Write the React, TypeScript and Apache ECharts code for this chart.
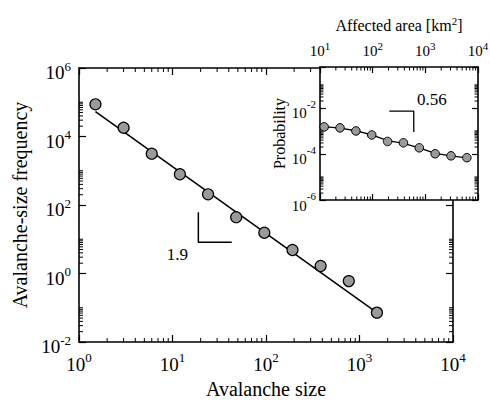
import React, { useEffect, useRef } from "react";
import * as echarts from "echarts";

// ---- main panel data ----
const mainSizes = [1.5, 3, 6, 12, 24, 48, 96, 192, 384, 768, 1536];
const mainFreq = [8.7e4, 1.8e4, 3150, 790, 205, 44, 15.5, 4.85, 1.66, 0.6, 0.072];
const mainFitX = [1.5, 1536];
const mainFitY = [5.3e4, 0.072];
const mainSlopeX = [18.9, 18.9, 43];
const mainSlopeY = [61, 8.15, 8.15];
const mainSlopeLabel = ["1.9"];
const mainSlopeLabelPos = [11.3, 3.7];

// ---- inset data ----
const insetArea = [12, 24, 48, 96, 192, 384, 768, 1536, 3072, 6144];
const insetProb = [1.5e-3, 1.36e-3, 1.0e-3, 6.7e-4, 3.5e-4, 3.05e-4, 1.85e-4, 1.02e-4, 8.3e-5, 6.9e-5];
const insetFitX = [12, 24, 48, 96, 192, 384, 768, 1536, 3072, 6144];
const insetFitY = [1.55e-3, 1.32e-3, 1.02e-3, 6.8e-4, 3.8e-4, 2.9e-4, 1.85e-4, 1.05e-4, 8.3e-5, 6.7e-5];
const insetSlopeX = [207, 603, 603];
const insetSlopeY = [7.2e-3, 7.2e-3, 9.1e-4];
const insetSlopeLabel = ["0.56"];
const insetSlopeLabelPos = [1330, 0.0231];

// ---- axis ranges & minor tick values ----
const mainXRange = [1, 10000];
const mainYRange = [0.01, 1e6];
const insetXRange = [10, 10000];
const insetYRange = [1e-6, 0.6];
const mainXMinor = [2, 3, 4, 5, 6, 7, 8, 9, 20, 30, 40, 50, 60, 70, 80, 90, 200, 300, 400, 500, 600, 700, 800, 900, 2000, 3000, 4000, 5000, 6000, 7000, 8000, 9000];
const mainYMinor = [0.02, 0.03, 0.04, 0.05, 0.06, 0.07, 0.08, 0.09, 0.1, 2, 3, 4, 5, 6, 7, 8, 9, 10, 200, 300, 400, 500, 600, 700, 800, 900, 1000, 2e4, 3e4, 4e4, 5e4, 6e4, 7e4, 8e4, 9e4, 1e5];
const insetXMinor = [20, 30, 40, 50, 60, 70, 80, 90, 200, 300, 400, 500, 600, 700, 800, 900, 2000, 3000, 4000, 5000, 6000, 7000, 8000, 9000];
const insetYMinor = [2e-6, 3e-6, 4e-6, 5e-6, 6e-6, 7e-6, 8e-6, 9e-6, 1e-5, 2e-4, 3e-4, 4e-4, 5e-4, 6e-4, 7e-4, 8e-4, 9e-4, 1e-3, 0.02, 0.03, 0.04, 0.05, 0.06, 0.07, 0.08, 0.09, 0.1];

const FONT = "Liberation Serif, serif";

function pow10Label(v: number): string {
  const e = Math.log10(v);
  const r = Math.round(e);
  if (Math.abs(e - r) > 1e-6) return "";
  return `{b|10}{s|${r}}`;
}

function xTickRender(len: number) {
  return (params: any, api: any) => {
    const x = api.coord([api.value(0), api.value(1)])[0];
    const cs = params.coordSys;
    const yb = cs.y + cs.height;
    const yt = cs.y;
    return {
      type: "group",
      children: [
        { type: "line", shape: { x1: x, y1: yb, x2: x, y2: yb - len }, style: { stroke: "#000", lineWidth: 1 } },
        { type: "line", shape: { x1: x, y1: yt, x2: x, y2: yt + len }, style: { stroke: "#000", lineWidth: 1 } },
      ],
    };
  };
}

function yTickRender(len: number) {
  return (params: any, api: any) => {
    const y = api.coord([api.value(0), api.value(1)])[1];
    const cs = params.coordSys;
    const xl = cs.x;
    const xr = cs.x + cs.width;
    return {
      type: "group",
      children: [
        { type: "line", shape: { x1: xl, y1: y, x2: xl + len, y2: y }, style: { stroke: "#000", lineWidth: 1 } },
        { type: "line", shape: { x1: xr, y1: y, x2: xr - len, y2: y }, style: { stroke: "#000", lineWidth: 1 } },
      ],
    };
  };
}

export default function App() {
  const ref = useRef<HTMLDivElement>(null);

  useEffect(() => {
    if (!ref.current) return;
    const chart = echarts.init(ref.current, null, { renderer: "svg" });

    const axisLine = { show: true, onZero: false, lineStyle: { color: "#000", width: 1.6 } };
    const majorTick = { show: true, inside: true, length: 7, lineStyle: { color: "#000", width: 1.2 } };

    const mainRich = {
      b: { fontSize: 19, lineHeight: 26, fontFamily: FONT, color: "#000" },
      s: { fontSize: 13, lineHeight: 13, verticalAlign: "top", fontFamily: FONT, color: "#000" },
    };
    const insetRichY = {
      b: { fontSize: 15, lineHeight: 30, fontFamily: FONT, color: "#000" },
      s: { fontSize: 11, lineHeight: 11, verticalAlign: "top", fontFamily: FONT, color: "#000" },
    };
    const insetRichX = {
      b: { fontSize: 15, lineHeight: 22, fontFamily: FONT, color: "#000" },
      s: { fontSize: 11, lineHeight: 11, verticalAlign: "top", fontFamily: FONT, color: "#000" },
    };
    const slopeLabelStyle = {
      show: true, position: "inside", fontFamily: FONT, fontSize: 17, color: "#000",
      textBorderWidth: 0, textBorderColor: "transparent", opacity: 1,
    };

    const option: any = {
      animation: false,
      backgroundColor: "#fff",
      textStyle: { fontFamily: FONT },
      grid: [
        { left: 79, top: 68, width: 374, height: 274, outerBoundsMode: "none", containLabel: false },
        {
          left: 320, top: 67, width: 158, height: 133, show: true, backgroundColor: "#fff",
          borderWidth: 0, z: 5, outerBoundsMode: "none", containLabel: false,
        },
      ],
      xAxis: [
        {
          type: "log", logBase: 10, gridIndex: 0, position: "bottom", min: mainXRange[0], max: mainXRange[1], interval: 1,
          axisLine, axisTick: majorTick, splitLine: { show: false }, minorTick: { show: false },
          axisLabel: { formatter: pow10Label, margin: 9, rich: mainRich, fontFamily: FONT },
          name: "Avalanche size", nameLocation: "middle", nameGap: 37,
          nameTextStyle: { fontFamily: FONT, fontSize: 20, color: "#000" },
        },
        {
          type: "log", logBase: 10, gridIndex: 0, position: "top", min: mainXRange[0], max: mainXRange[1], interval: 1,
          axisLine, axisTick: majorTick, splitLine: { show: false }, axisLabel: { show: false },
        },
        {
          type: "log", logBase: 10, gridIndex: 1, position: "top", min: insetXRange[0], max: insetXRange[1], interval: 1, z: 6,
          axisLine, axisTick: { ...majorTick, length: 6 }, splitLine: { show: false },
          axisLabel: { formatter: pow10Label, margin: 5, rich: insetRichX, fontFamily: FONT },
          name: "{a|Affected area [km}{s|2}{a|]}", nameLocation: "middle", nameGap: 32,
          nameTextStyle: {
            fontFamily: FONT, fontSize: 16, color: "#000",
            rich: {
              a: { fontSize: 16, lineHeight: 20, fontFamily: FONT, color: "#000" },
              s: { fontSize: 11, lineHeight: 11, verticalAlign: "top", fontFamily: FONT, color: "#000" },
            },
          },
        },
        {
          type: "log", logBase: 10, gridIndex: 1, position: "bottom", min: insetXRange[0], max: insetXRange[1], interval: 1, z: 6,
          axisLine, axisTick: { ...majorTick, length: 6 }, splitLine: { show: false }, axisLabel: { show: false },
        },
      ],
      yAxis: [
        {
          type: "log", logBase: 10, gridIndex: 0, position: "left", min: mainYRange[0], max: mainYRange[1], interval: 2,
          axisLine, axisTick: majorTick, splitLine: { show: false },
          axisLabel: { formatter: pow10Label, margin: 8, rich: mainRich, padding: [9, 0, 0, 0], fontFamily: FONT },
          name: "Avalanche-size frequency", nameLocation: "middle", nameGap: 48,
          nameTextStyle: { fontFamily: FONT, fontSize: 20, color: "#000" },
        },
        {
          type: "log", logBase: 10, gridIndex: 0, position: "right", min: mainYRange[0], max: mainYRange[1], interval: 2,
          axisLine, axisTick: majorTick, splitLine: { show: false }, axisLabel: { show: false },
        },
        {
          type: "log", logBase: 10, gridIndex: 1, position: "left", min: insetYRange[0], max: insetYRange[1], interval: 2, z: 6,
          axisLine, axisTick: { ...majorTick, length: 6 }, splitLine: { show: false },
          axisLabel: { formatter: pow10Label, margin: 4, rich: insetRichY, padding: [11, 0, 0, 0], fontFamily: FONT },
          name: "Probability", nameLocation: "middle", nameGap: 32,
          nameTextStyle: { fontFamily: FONT, fontSize: 16, color: "#000" },
        },
        {
          type: "log", logBase: 10, gridIndex: 1, position: "right", min: insetYRange[0], max: insetYRange[1], interval: 2, z: 6,
          axisLine, axisTick: { ...majorTick, length: 6 }, splitLine: { show: false }, axisLabel: { show: false },
        },
      ],
      series: [
        // main panel
        {
          type: "custom", xAxisIndex: 0, yAxisIndex: 0, z: 2, silent: true,
          renderItem: xTickRender(4), data: mainXMinor.map((v) => [v, 1]),
        },
        {
          type: "custom", xAxisIndex: 0, yAxisIndex: 0, z: 2, silent: true,
          renderItem: yTickRender(4), data: mainYMinor.map((v) => [10, v]),
        },
        {
          type: "line", xAxisIndex: 0, yAxisIndex: 0, z: 2, symbol: "none",
          lineStyle: { color: "#000", width: 1.6 },
          data: mainFitX.map((x, i) => [x, mainFitY[i]]),
        },
        {
          type: "scatter", xAxisIndex: 0, yAxisIndex: 0, z: 3, symbolSize: 11,
          itemStyle: { color: "#9a9a9a", borderColor: "#000", borderWidth: 1.2, opacity: 1 },
          data: mainSizes.map((x, i) => [x, mainFreq[i]]),
        },
        {
          type: "line", xAxisIndex: 0, yAxisIndex: 0, z: 2, symbol: "none",
          lineStyle: { color: "#000", width: 1.5 },
          data: mainSlopeX.map((x, i) => [x, mainSlopeY[i]]),
        },
        {
          type: "scatter", xAxisIndex: 0, yAxisIndex: 0, z: 3, symbolSize: 1,
          itemStyle: { color: "transparent" },
          label: { ...slopeLabelStyle, formatter: mainSlopeLabel[0] },
          data: [[mainSlopeLabelPos[0], mainSlopeLabelPos[1]]],
        },
        // inset panel
        {
          type: "custom", xAxisIndex: 2, yAxisIndex: 2, z: 8, silent: true,
          renderItem: xTickRender(3.5), data: insetXMinor.map((v) => [v, 1e-3]),
        },
        {
          type: "custom", xAxisIndex: 2, yAxisIndex: 2, z: 8, silent: true,
          renderItem: yTickRender(3.5), data: insetYMinor.map((v) => [100, v]),
        },
        {
          type: "line", xAxisIndex: 2, yAxisIndex: 2, z: 8, symbol: "none",
          lineStyle: { color: "#000", width: 1.3 },
          data: insetFitX.map((x, i) => [x, insetFitY[i]]),
        },
        {
          type: "scatter", xAxisIndex: 2, yAxisIndex: 2, z: 9, symbolSize: 8.5,
          itemStyle: { color: "#9a9a9a", borderColor: "#000", borderWidth: 1, opacity: 1 },
          data: insetArea.map((x, i) => [x, insetProb[i]]),
        },
        {
          type: "line", xAxisIndex: 2, yAxisIndex: 2, z: 8, symbol: "none",
          lineStyle: { color: "#000", width: 1.3 },
          data: insetSlopeX.map((x, i) => [x, insetSlopeY[i]]),
        },
        {
          type: "scatter", xAxisIndex: 2, yAxisIndex: 2, z: 9, symbolSize: 1,
          itemStyle: { color: "transparent" },
          label: { ...slopeLabelStyle, formatter: insetSlopeLabel[0] },
          data: [[insetSlopeLabelPos[0], insetSlopeLabelPos[1]]],
        },
      ],
    };

    chart.setOption(option);
    return () => chart.dispose();
  }, []);

  return (
    <div
      ref={ref}
      style={{ position: "absolute", left: 0, top: 0, width: 490, height: 400, background: "#fff" }}
    />
  );
}
